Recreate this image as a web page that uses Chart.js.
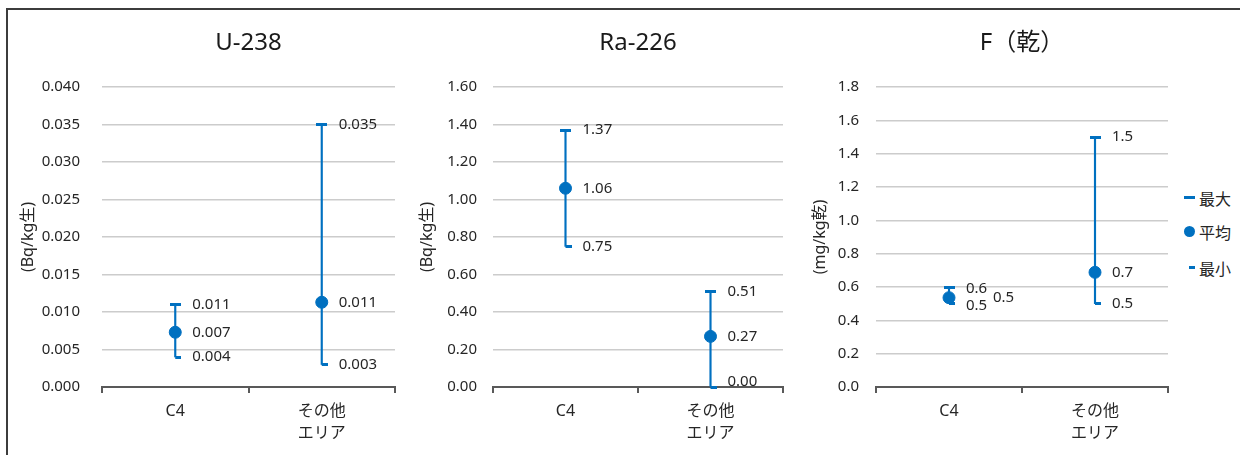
<!DOCTYPE html>
<html>
<head>
<meta charset="utf-8">
<script src="https://cdn.jsdelivr.net/npm/chart.js@4.4.0/dist/chart.umd.min.js"></script>
<style>
  body { margin: 0; background: #fff; width: 1240px; height: 455px; overflow: hidden; position: relative; }
  .frame { position: absolute; left: 6px; top: 8px; width: 1260px; height: 470px; border: 2px solid #3c3c3c; box-sizing: border-box; }
  canvas { position: absolute; top: 10px; }
  .legend { position: absolute; left: 1180px; top: 0; font: 16px "Noto Sans CJK JP", sans-serif; color: #262626; }
  .item { position: absolute; left: 19px; height: 20px; line-height: 20px; white-space: nowrap; }
  .mark { position: absolute; background: #0070C0; }
</style>
</head>
<body>
<div class="frame"></div>
<canvas id="u238" width="400" height="445" style="left:10px"></canvas>
<canvas id="ra226" width="380" height="445" style="left:415px"></canvas>
<canvas id="fdry" width="380" height="445" style="left:800px"></canvas>
<div class="legend">
  <div class="mark" style="left:4px;top:196px;width:11px;height:3px"></div>
  <div class="item" style="top:188px">最大</div>
  <div class="mark" style="left:4px;top:226px;width:11px;height:11px;border-radius:50%"></div>
  <div class="item" style="top:222px">平均</div>
  <div class="mark" style="left:9px;top:266px;width:6px;height:3px"></div>
  <div class="item" style="top:258px">最小</div>
</div>
<script>
// data
const categories = ['C4', ['その他', 'エリア']];

const u238Max = [0.011, 0.035];
const u238Avg = [0.0073, 0.0113];
const u238Min = [0.004, 0.003];

const ra226Max = [1.37, 0.51];
const ra226Avg = [1.06, 0.27];
const ra226Min = [0.75, 0.00];

const fMax = [0.6, 1.5];
const fAvg = [0.536, 0.688];
const fMin = [0.502, 0.5];

const BLUE = '#0070C0';
const TEXT = '#262626';
const GRID = '#CCCCCC';
const AXIS = '#595959';
const FONT = "'Noto Sans', 'Noto Sans CJK JP', sans-serif";

Chart.defaults.font.family = FONT;
Chart.defaults.color = TEXT;

function dashImage(w, h, x0, x1) {
  const c = document.createElement('canvas');
  c.width = w;
  c.height = h;
  const g = c.getContext('2d');
  g.fillStyle = BLUE;
  g.fillRect(x0, 0, x1 - x0, h);
  return c;
}
const maxMark = dashImage(11, 3, 0, 11);
const minMark = dashImage(12, 3, 6, 12);

// value labels to the right of each marker
const valueLabels = {
  id: 'valueLabels',
  afterDatasetsDraw(chart, args, opts) {
    const ctx = chart.ctx;
    ctx.save();
    ctx.font = '15px ' + FONT;
    ctx.fillStyle = TEXT;
    ctx.textAlign = 'left';
    ctx.textBaseline = 'middle';
    chart.data.datasets.forEach((ds, di) => {
      if (!ds.labelKey) return;
      chart.getDatasetMeta(di).data.forEach((pt, i) => {
        const s = (opts.shifts || []).find(o => o.key === ds.labelKey && o.index === i) || {};
        ctx.fillText(ds.data[i].toFixed(opts.decimals), pt.x + 17 + (s.dx || 0), pt.y + (s.dy || 0));
      });
    });
    ctx.restore();
  }
};

function makeChart(id, cfg) {
  const marker = (label, data, style, key, order) => ({
    type: 'line', label: label, data: data, showLine: false, clip: false,
    pointStyle: style, pointRadius: 6, pointBorderWidth: 1,
    backgroundColor: BLUE, borderColor: BLUE, labelKey: key, order: order
  });
  return new Chart(document.getElementById(id), {
    type: 'bar',
    data: {
      labels: categories,
      datasets: [
        marker('最大', cfg.max, maxMark, 'max', 1),
        marker('平均', cfg.avg, 'circle', 'avg', 0),
        marker('最小', cfg.min, minMark, 'min', 2),
        {
          type: 'bar', label: 'range', order: 5,
          data: cfg.max.map((v, i) => [cfg.min[i], v]),
          backgroundColor: BLUE, barThickness: 1.5
        }
      ]
    },
    plugins: [valueLabels],
    options: {
      responsive: false,
      animation: false,
      events: [],
      layout: { padding: { left: 0, right: cfg.padRight, top: 0, bottom: 0 } },
      plugins: {
        legend: { display: false },
        tooltip: { enabled: false },
        title: {
          display: true, text: cfg.title, fullSize: false, color: '#1a1a1a',
          font: { size: 24, weight: 'normal' },
          padding: { top: 18.6, bottom: 29.6 }
        },
        valueLabels: { decimals: cfg.decimals, shifts: cfg.shifts }
      },
      scales: {
        x: {
          grid: { offset: true, drawOnChartArea: false, drawTicks: true, tickLength: 6, color: AXIS, lineWidth: 2 },
          border: { display: true, color: AXIS, width: 2 },
          ticks: { font: { size: 16, lineHeight: 1.375 }, color: TEXT, padding: 7, maxRotation: 0, autoSkip: false },
          afterFit(s) { s.height = 68; }
        },
        y: {
          min: 0, max: cfg.yMax,
          ticks: { stepSize: cfg.step, padding: cfg.tickPad, font: { size: 15 }, color: TEXT,
                   callback: v => v.toFixed(cfg.decimals) },
          grid: { drawTicks: false, lineWidth: 1.5,
                  color: c => (c.tick && c.tick.value === 0) ? 'rgba(0,0,0,0)' : GRID },
          border: { display: false },
          title: { display: true, text: cfg.unit, color: TEXT, font: { size: 16 },
                   padding: { top: cfg.titlePad, bottom: 0 } },
          afterFit(s) { s.width = cfg.yWidth; }
        }
      }
    }
  });
}

makeChart('u238', {
  title: 'U-238', unit: '(Bq/kg生)', max: u238Max, avg: u238Avg, min: u238Min,
  yMax: 0.04, step: 0.005, decimals: 3,
  yWidth: 92, tickPad: 22, titlePad: 8.4, padRight: 15, shifts: []
});
makeChart('ra226', {
  title: 'Ra-226', unit: '(Bq/kg生)', max: ra226Max, avg: ra226Avg, min: ra226Min,
  yMax: 1.6, step: 0.2, decimals: 2,
  yWidth: 78, tickPad: 16, titlePad: 2.4, padRight: 12,
  shifts: [{ key: 'min', index: 1, dy: -5 }]
});
makeChart('fdry', {
  title: 'F（乾）', unit: '(mg/kg乾)', max: fMax, avg: fAvg, min: fMin,
  yMax: 1.8, step: 0.2, decimals: 1,
  yWidth: 76, tickPad: 17, titlePad: 10.4, padRight: 12,
  shifts: [{ key: 'max', index: 0, dy: 2 }, { key: 'min', index: 0, dy: 2 }, { key: 'avg', index: 0, dx: 27 }]
});
</script>
</body>
</html>
